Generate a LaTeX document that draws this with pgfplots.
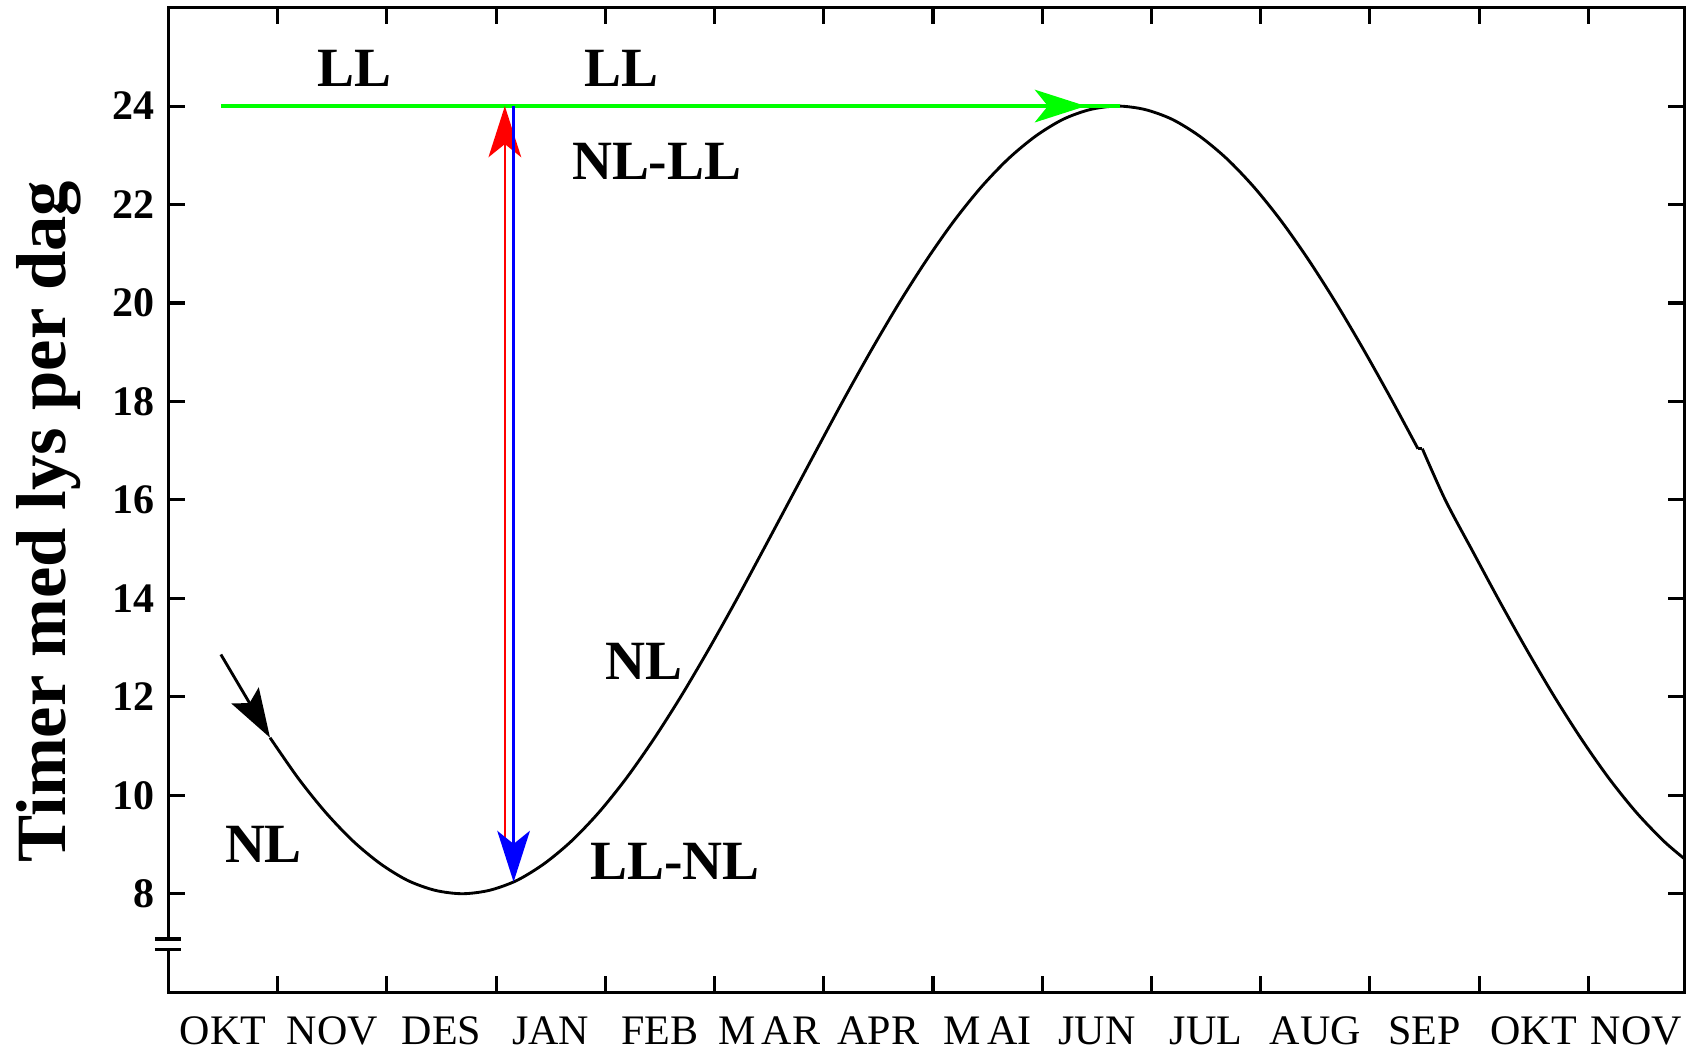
\documentclass[border=0pt]{standalone}
\usepackage{fontspec}
\setmainfont{Liberation Serif}
\usepackage{pgfplots}
\pgfplotsset{compat=1.18}
\usetikzlibrary{arrows.meta}

\definecolor{daygreen}{RGB}{0,255,0}
\definecolor{dayred}{RGB}{255,0,0}
\definecolor{dayblue}{RGB}{0,0,255}

\tikzset{
  bighead/.style={-{Stealth[length=0.47cm,width=0.30cm,inset=0.12cm]}},
  lbl/.style={font=\bfseries\fontsize{14.5}{16}\selectfont, inner sep=0pt},
}
\newcommand\narrowsp{\kern-0.1em\ }

\begin{document}
\begin{tikzpicture}
\useasboundingbox (-1.55cm,-0.54cm) rectangle (14.13cm,9.13cm);
\begin{axis}[
  scale only axis,
  width=13.95cm, height=9.06cm,
  xmin=0, xmax=13.88, ymin=6, ymax=26,
  axis line style={line width=0.8pt},
  every tick/.style={line width=0.8pt, black},
  major tick length=0.15cm,
  xtick={1,...,13}, xticklabels={},
  extra x ticks={0.5,1.5,...,12.5,13.44},
  extra x tick labels={OKT,NOV,DES,JAN,FEB,{M\narrowsp AR},APR,{M\narrowsp AI},JUN,JUL,AUG,SEP,OKT,NOV},
  extra x tick style={major tick length=0pt},
  ytick={8,10,...,24},
  /pgf/number format/assume math mode=true,
  yticklabel style={font=\bfseries\fontsize{11}{12}\selectfont},
  xticklabel style={font=\fontsize{11}{12}\selectfont, yshift=-0.1cm},
  ylabel={Timer med lys per dag},
  ylabel style={font=\bfseries\fontsize{18.5}{20}\selectfont,
    at={(axis description cs:-0.079,0.478)}, anchor=center},
  clip=false,
]
% day length through the year
\addplot[black, line width=0.75pt, smooth] coordinates {
 (0.93,11.17) (1.19,10.34) (1.44,9.65) (1.69,9.07) (1.94,8.61) (2.19,8.27)
 (2.44,8.07) (2.69,8.00) (2.94,8.07) (3.19,8.27) (3.44,8.61) (3.69,9.07)
 (3.94,9.65) (4.19,10.34) (4.44,11.13) (4.69,12.00) (4.94,12.94) (5.19,13.93)
 (5.44,14.96) (5.69,16.00) (5.94,17.04) (6.19,18.07) (6.44,19.06) (6.69,20.00)
 (6.94,20.87) (7.19,21.66) (7.44,22.35) (7.69,22.93) (7.94,23.39) (8.19,23.73)
 (8.44,23.93) (8.69,24.00) (8.94,23.93) (9.19,23.73) (9.44,23.39) (9.69,22.93)
 (9.94,22.35) (10.19,21.66) (10.44,20.87) (10.69,20.00) (10.94,19.06) (11.19,18.07)
 (11.44,17.04)
};
\addplot[black, line width=0.75pt] coordinates {(11.44,17.04) (11.48,17.04)};
\addplot[black, line width=0.75pt, smooth] coordinates {
 (11.48,17.04) (11.69,16.00) (11.94,14.96) (12.19,13.93) (12.44,12.94)
 (12.69,12.00) (12.94,11.13) (13.19,10.34) (13.44,9.65) (13.69,9.07) (13.88,8.71)
};
% constant light
\addplot[daygreen, line width=0.9pt] coordinates {(0.48,24) (8.71,24)};
\addplot[daygreen, line width=0.9pt, bighead] coordinates {(8.00,24) (8.40,24)};
% switches
\addplot[dayred, line width=0.7pt, bighead] coordinates {(3.08,8.86) (3.08,24)};
\addplot[dayblue, line width=0.7pt, bighead] coordinates {(3.16,24) (3.16,8.24)};
\addplot[black, line width=0.75pt, -{Stealth[length=0.45cm,width=0.29cm,inset=0.08cm]}]
  coordinates {(0.48,12.86) (0.93,11.17)};

% axis break
\fill[white] ([xshift=-0.04cm]axis cs:0,6.90) rectangle ([xshift=0.04cm]axis cs:0,7.06);
\draw[line width=0.8pt] ([xshift=-0.125cm]axis cs:0,7.08) -- ([xshift=0.12cm]axis cs:0,7.08);
\draw[line width=0.8pt] ([xshift=-0.125cm]axis cs:0,6.86) -- ([xshift=0.12cm]axis cs:0,6.86);

\node[lbl] at (axis cs:1.70,24.77) {LL};
\node[lbl] at (axis cs:4.15,24.77) {LL};
\node[lbl] at (axis cs:4.47,22.88) {NL-LL};
\node[lbl] at (axis cs:4.35,12.71) {NL};
\node[lbl] at (axis cs:0.87,9.01) {NL};
\node[lbl] at (axis cs:4.64,8.66) {LL-NL};
\end{axis}
\end{tikzpicture}
\end{document}
